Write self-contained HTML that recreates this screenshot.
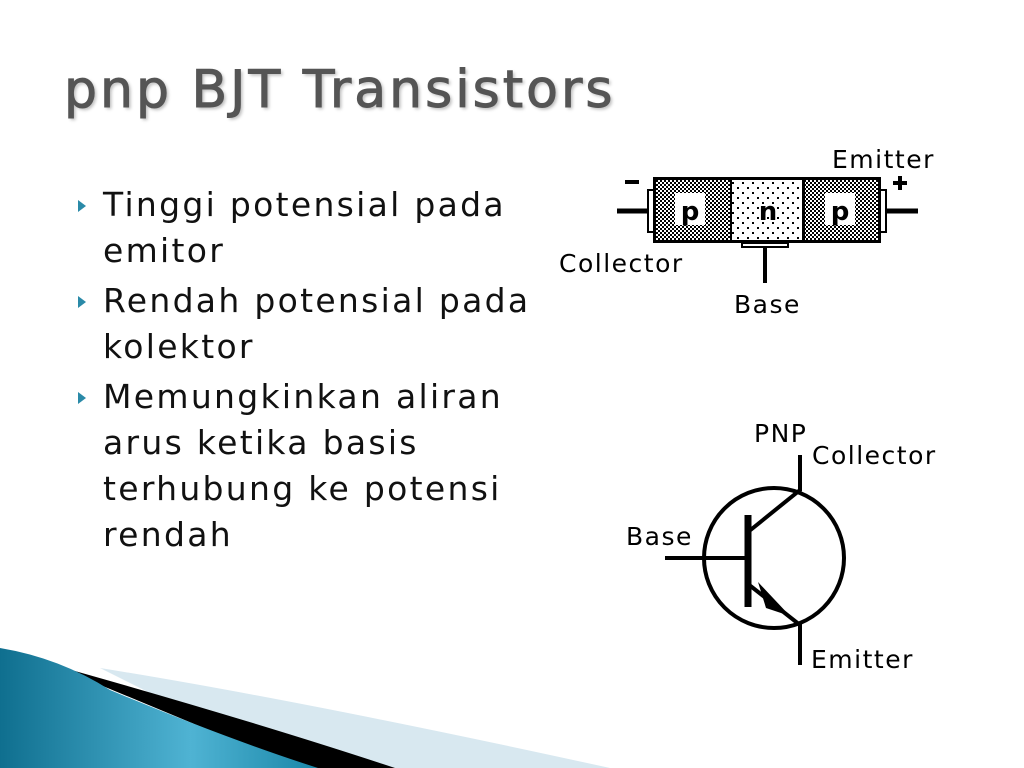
<!DOCTYPE html>
<html><head><style>
body{margin:0;width:1024px;height:768px;background:#fff;position:relative;overflow:hidden;font-family:"Liberation Sans",sans-serif}
h1{position:absolute;left:64px;top:60px;margin:0;font-size:52px;font-weight:normal;color:#555;letter-spacing:3px;text-shadow:2px 2px 3px #bbb;font-family:"DejaVu Sans","Liberation Sans",sans-serif;-webkit-text-stroke:1px #555}
ul{position:absolute;left:76px;top:182px;margin:0;padding:0;list-style:none;font-family:"DejaVu Sans","Liberation Sans",sans-serif;font-size:33px;letter-spacing:2.3px;color:#111;line-height:46px;width:470px}
li{position:relative;padding-left:27px}
li:before{content:"";position:absolute;left:2px;top:18px;border-left:8px solid #2a8aa8;border-top:6px solid transparent;border-bottom:6px solid transparent}
</style></head><body>
<svg width="1024" height="768" style="position:absolute;left:0;top:0">
<defs>
<pattern id="ck" width="4" height="4" patternUnits="userSpaceOnUse"><rect width="4" height="4" fill="#fff"/><rect width="2" height="2" fill="#000"/><rect x="2" y="2" width="2" height="2" fill="#000"/></pattern>
<pattern id="dt" width="10" height="10" patternUnits="userSpaceOnUse"><rect width="10" height="10" fill="#fff"/><rect x="2" y="2" width="2" height="2" fill="#000"/><rect x="7" y="7" width="2" height="2" fill="#000"/></pattern>
<linearGradient id="bl" x1="0" y1="0" x2="1" y2="0"><stop offset="0" stop-color="#0f6f8f"/><stop offset=".6" stop-color="#4fb3d3"/><stop offset="1" stop-color="#1a87a8"/></linearGradient>
</defs>
<path d="M100,668 Q300,700 610,768 L300,768 Z" fill="#d8e8f0"/>
<path d="M50,664 Q250,720 395,768 L300,768 Z" fill="#000"/>
<path d="M0,648 Q60,658 110,690 Q230,740 318,768 L0,768 Z" fill="url(#bl)"/>
<rect x="653" y="177" width="228" height="66" fill="#000"/>
<rect x="656" y="180" width="74" height="60" fill="url(#ck)"/>
<rect x="732" y="180" width="70" height="60" fill="url(#dt)"/>
<rect x="805" y="180" width="73" height="60" fill="url(#ck)"/>
<rect x="675" y="193" width="30" height="32" fill="#fff"/>
<rect x="825" y="193" width="30" height="32" fill="#fff"/>
<text x="690" y="220" font-size="26" font-weight="bold" text-anchor="middle" font-family="DejaVu Sans">p</text>
<text x="768" y="220" font-size="26" font-weight="bold" text-anchor="middle" font-family="DejaVu Sans">n</text>
<text x="840" y="220" font-size="26" font-weight="bold" text-anchor="middle" font-family="DejaVu Sans">p</text>
<path d="M654,190 H648 V232 H654 M880,190 H886 V232 H880" fill="none" stroke="#000" stroke-width="2"/>
<line x1="617" y1="211" x2="648" y2="211" stroke="#000" stroke-width="5"/>
<line x1="886" y1="211" x2="918" y2="211" stroke="#000" stroke-width="5"/>
<rect x="742" y="243" width="46" height="4" fill="#fff" stroke="#000" stroke-width="2"/>
<line x1="765" y1="247" x2="765" y2="283" stroke="#000" stroke-width="4"/>
<rect x="625" y="180" width="14" height="4"/>
<path d="M893,183 H907 M900,176 V190" stroke="#000" stroke-width="4"/>
<g font-family="DejaVu Sans" font-size="25" fill="#000" letter-spacing="1.5">
<text x="832" y="168">Emitter</text>
<text x="559" y="272">Collector</text>
<text x="734" y="313">Base</text>
<text x="754" y="442">PNP</text>
<text x="812" y="464">Collector</text>
<text x="626" y="545">Base</text>
<text x="811" y="668">Emitter</text>
</g>
<circle cx="774" cy="558" r="70" fill="none" stroke="#000" stroke-width="4"/>
<line x1="665" y1="558" x2="748" y2="558" stroke="#000" stroke-width="4"/>
<line x1="748" y1="515" x2="748" y2="607" stroke="#000" stroke-width="7"/>
<path d="M748,532 L800,490 V455 M748,584 L800,625 V665" fill="none" stroke="#000" stroke-width="4"/>
<path d="M758,582 L790,616 L766,608 Z" fill="#000"/>
</svg>
<h1>pnp BJT Transistors</h1>
<ul>
<li>Tinggi potensial pada emitor</li>
<li style="margin-top:4px">Rendah potensial pada kolektor</li>
<li style="margin-top:4px">Memungkinkan aliran arus ketika basis terhubung ke potensi rendah</li>
</ul>
</body></html>
